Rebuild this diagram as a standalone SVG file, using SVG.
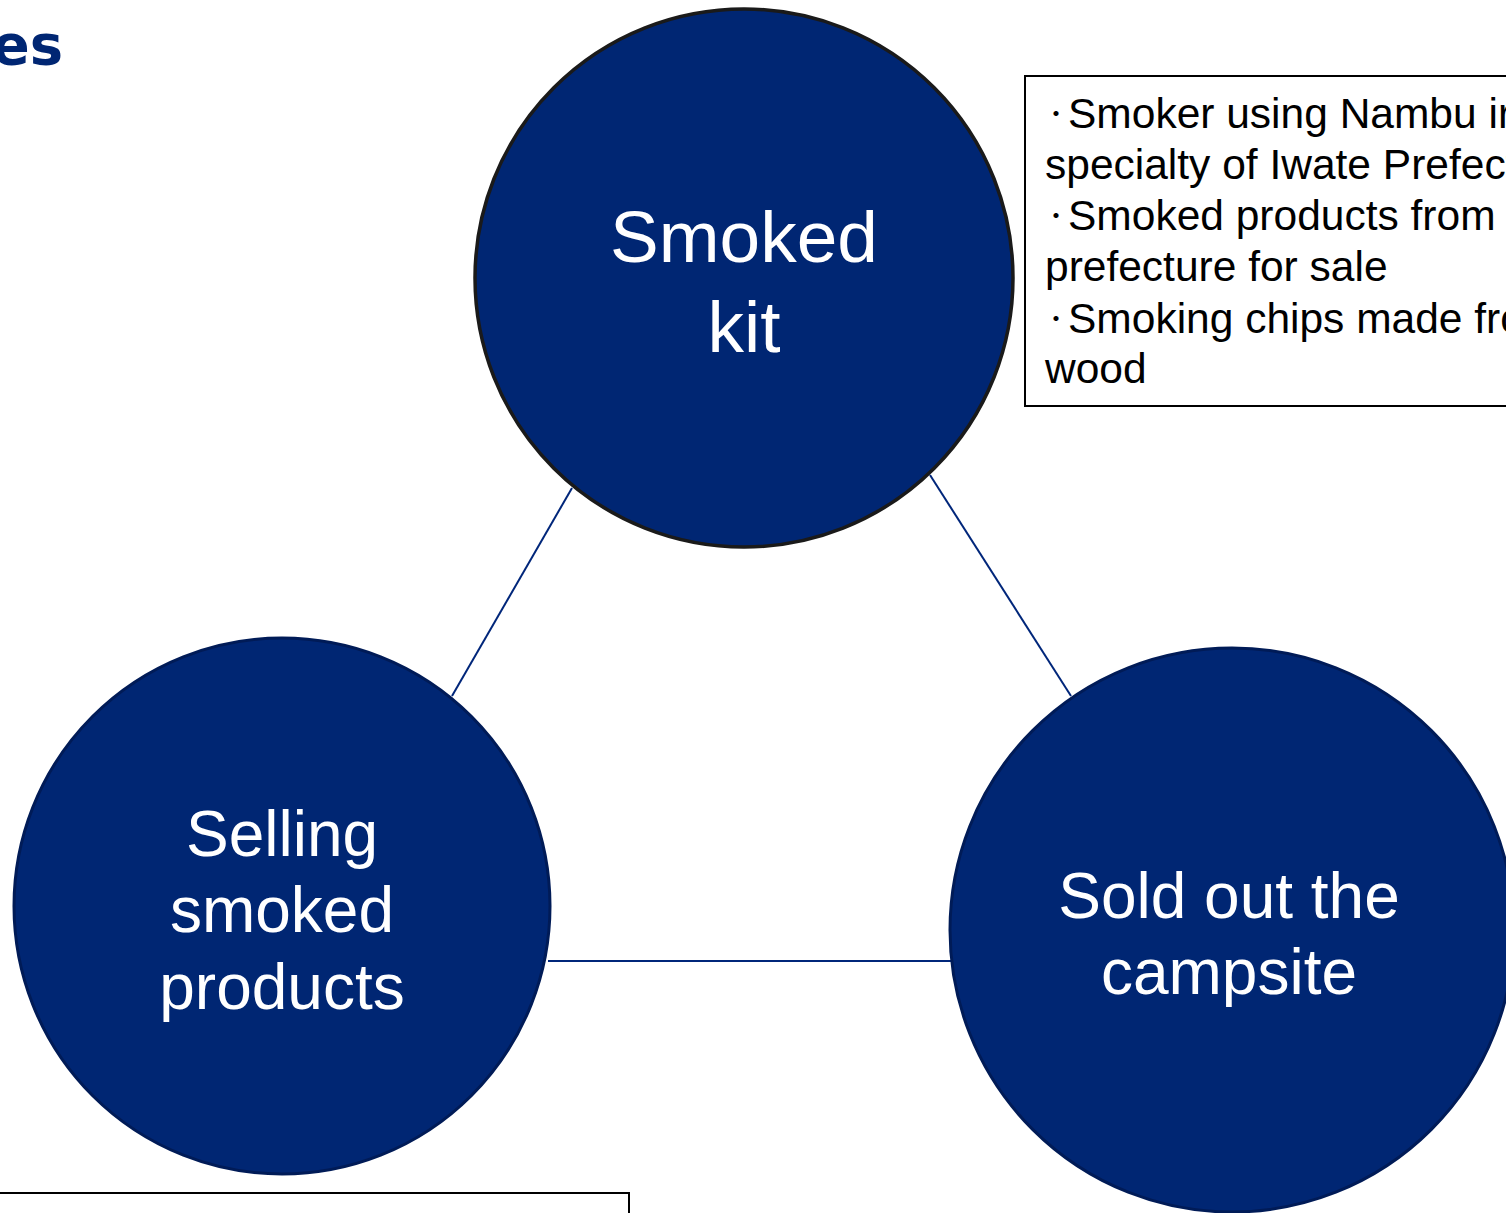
<svg xmlns="http://www.w3.org/2000/svg" width="1506" height="1213" viewBox="0 0 1506 1213">
<style>
.node{fill:#002673;stroke:#001b57;stroke-width:3}
.top{stroke:#1a1a1a;stroke-width:3.5}
.lbl{font-family:"Liberation Sans",Arial,sans-serif;fill:#ffffff;text-anchor:middle}
.conn{stroke:#00267a;stroke-width:2;fill:none}
.box{fill:#ffffff;stroke:#000000;stroke-width:2}
.note{font-family:"Liberation Sans",Arial,"Noto Sans CJK JP",sans-serif;font-size:42.5px;fill:#000000}
.dot{font-family:"Noto Sans CJK JP",sans-serif;font-size:24px}
</style>
<rect width="1506" height="1213" fill="#ffffff"/>
<text x="63" y="64" font-family="'DejaVu Sans',Verdana,sans-serif" font-weight="bold" font-size="56" fill="#002673" text-anchor="end">es</text>
<g id="connectors">
<line class="conn" x1="572" y1="488" x2="452" y2="696"/>
<line class="conn" x1="930" y1="475" x2="1071" y2="696"/>
<line class="conn" x1="548" y1="961" x2="951" y2="961"/>
</g>
<g id="node-smoked-kit">
<circle class="node top" cx="744" cy="278" r="269"/>
<text class="lbl" font-size="73"><tspan x="744" y="262">Smoked</tspan><tspan x="744" y="352">kit</tspan></text>
</g>
<g id="node-selling">
<circle class="node" cx="282" cy="906" r="268"/>
<text class="lbl" font-size="64"><tspan x="282" y="856">Selling</tspan><tspan x="282" y="932">smoked</tspan><tspan x="282" y="1009">products</tspan></text>
</g>
<g id="node-sold-out">
<circle class="node" cx="1232" cy="930" r="282"/>
<text class="lbl" font-size="64"><tspan x="1229" y="918">Sold out the</tspan><tspan x="1229" y="994">campsite</tspan></text>
</g>
<g id="note-kit">
<rect class="box" x="1025" y="76" width="520" height="330"/>
<text class="note">
<tspan class="dot" x="1044" y="122">・</tspan><tspan x="1068" y="128">Smoker using Nambu iron, a</tspan>
<tspan x="1045" y="179">specialty of Iwate Prefecture</tspan>
<tspan class="dot" x="1044" y="224">・</tspan><tspan x="1068" y="230">Smoked products from the</tspan>
<tspan x="1045" y="281">prefecture for sale</tspan>
<tspan class="dot" x="1044" y="327">・</tspan><tspan x="1068" y="333">Smoking chips made from</tspan>
<tspan x="1045" y="383">wood</tspan>
</text>
</g>
<g id="note-bottom">
<rect class="box" x="-2" y="1193" width="631" height="40"/>
</g>
</svg>
